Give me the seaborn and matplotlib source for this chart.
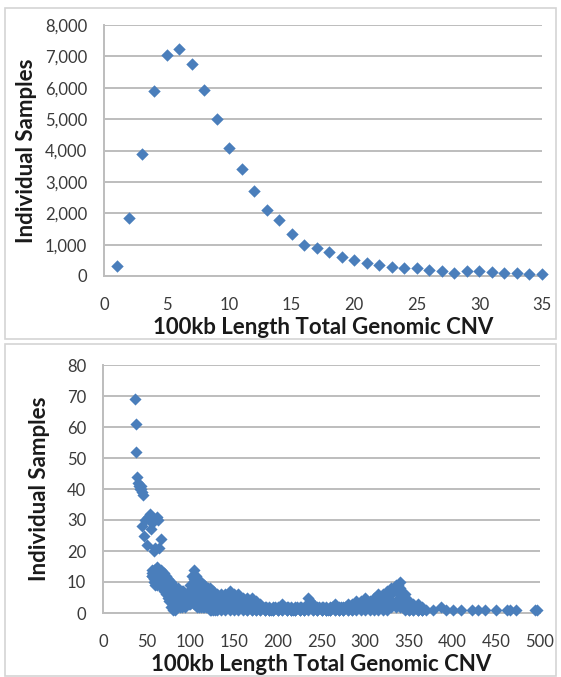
import numpy as np
import pandas as pd
import matplotlib
matplotlib.use("Agg")
import matplotlib.pyplot as plt
from matplotlib.patches import Rectangle
import seaborn as sns

# ---------------- data ----------------
# top panel
top_x = [1, 2, 3, 4, 5, 6, 7, 8, 9, 10, 11, 12, 13, 14, 15, 16, 17, 18,
         19, 20, 21, 22, 23, 24, 25, 26, 27, 28, 29, 30, 31, 32, 33, 34, 35]
top_y = [330, 1850, 3900, 5900, 7050, 7220, 6760, 5920, 5000, 4080, 3400,
         2700, 2100, 1800, 1330, 1000, 880, 750, 600, 500, 420, 350, 280,
         260, 240, 180, 150, 110, 160, 150, 120, 110, 110, 60, 70]

# bottom panel: head of the distribution
head_x = [37, 38, 38, 39, 40, 41, 42, 43, 44, 45, 46,
          45, 47, 48, 50, 52, 54, 55, 56, 58, 60, 62, 63, 64, 66]
head_y = [69, 61, 52, 44, 42, 41, 40, 41, 40, 39, 38,
          28, 25, 30, 22, 31, 32, 27, 29, 20, 21, 31, 30, 21, 24]

# bottom panel: dense cloud, x = 56..130 step 2
cloud_a_x = [56, 58, 60, 62, 64, 66, 68, 70, 72, 74, 76, 78, 80, 82, 84, 86,
             88, 90, 92, 94, 96, 98, 100, 102, 104, 106, 108, 110, 112, 114,
             116, 118, 120, 122, 124, 126, 128, 130]
cloud_a_top = [14, 14, 13, 15, 14, 14, 13, 13, 12, 11, 10, 10, 9, 8, 7, 8,
               7, 7, 7, 6, 6, 7, 9, 12, 14, 12, 11, 10, 10, 9, 9, 8, 8, 8, 7,
               7, 6, 6]
cloud_a_mid1 = [13, 12, 11, 12, 12, 11, 11, 10, 10, 9, 8, 7, 6, 5, 5, 6, 5,
                5, 5, 4, 5, 5, 7, 9, 11, 9, 8, 8, 7, 7, 6, 6, 6, 6, 5, 5, 4, 4]
cloud_a_mid2 = [12, 11, 10, 10, 11, 10, 9, 8, 8, 7, 6, 4, 3, 3, 3, 4, 4, 3,
                4, 3, 4, 4, 5, 6, 7, 6, 5, 5, 4, 4, 4, 4, 4, 3, 3, 3, 2, 2]
cloud_a_low = [12, 10, 9, 9, 10, 9, 8, 7, 6, 5, 4, 2, 1, 1, 2, 3, 2, 2, 3, 2,
               3, 3, 3, 4, 3, 3, 2, 2, 2, 2, 2, 2, 2, 1, 1, 1, 1, 1]

# bottom panel: dense cloud, x = 135..365 step 5
cloud_b_x = [135, 140, 145, 150, 155, 160, 165, 170, 175, 180, 185, 190, 195,
             200, 205, 210, 215, 220, 225, 230, 235, 240, 245, 250, 255, 260,
             265, 270, 275, 280, 285, 290, 295, 300, 305, 310, 315, 320, 325,
             330, 335, 340, 345, 350, 355, 360, 365]
cloud_b_top = [6, 6, 7, 6, 6, 5, 5, 5, 4, 3, 2, 2, 2, 2, 3, 2, 2, 2, 2, 2, 5,
               3, 2, 2, 2, 2, 3, 2, 2, 3, 3, 4, 4, 5, 4, 5, 6, 6, 7, 8, 9, 10,
               6, 4, 3, 3, 2]
cloud_b_mid = [4, 4, 5, 4, 4, 3, 3, 3, 2, 2, 1, 1, 1, 1, 2, 1, 1, 1, 1, 1, 3,
               2, 1, 1, 1, 1, 2, 1, 1, 2, 2, 3, 3, 3, 3, 4, 4, 4, 5, 6, 7, 8,
               4, 2, 2, 1, 1]
cloud_b_low = [2, 2, 3, 2, 2, 2, 1, 1, 1, 1, 1, 1, 1, 1, 1, 1, 1, 1, 1, 1, 2,
               1, 1, 1, 1, 1, 1, 1, 1, 1, 1, 2, 2, 2, 2, 2, 3, 3, 3, 4, 4, 5,
               2, 1, 1, 1, 1]
cloud_b_base = [1, 1, 1, 1, 1, 1, 1, 1, 1, 1, 1, 1, 1, 1, 1, 1, 1, 1, 1, 1, 1,
                1, 1, 1, 1, 1, 1, 1, 1, 1, 1, 1, 1, 1, 1, 1, 1, 1, 1, 2, 2, 2,
                1, 1, 1, 1, 1]
# extra samples between the step-5 columns
cloud_c_x = [137, 142, 147, 152, 157, 162, 167, 172, 177, 182, 187, 192, 197,
             202, 207, 212, 217, 222, 227, 232, 237, 242, 247, 252, 257, 262,
             267, 272, 277, 282, 287, 292, 297, 302, 307, 312, 317, 322, 327,
             332, 337, 342, 347, 352, 357, 362]
cloud_c_y = [3, 5, 4, 3, 5, 4, 2, 4, 3, 2, 2, 1, 2, 2, 2, 2, 1, 2, 2, 2, 4,
             2, 2, 2, 1, 2, 2, 2, 2, 2, 3, 3, 4, 4, 3, 4, 5, 5, 6, 7, 9, 6,
             3, 3, 2, 2]

# bottom panel: sparse tail
tail_x = [370, 378, 387, 392, 400, 410, 422, 429, 437, 450, 462, 466, 472,
          494, 497]
tail_y = [1, 1, 2, 1, 1, 1, 1, 1, 1, 1, 1, 1, 1, 1, 1]

top_xticks = [0, 5, 10, 15, 20, 25, 30, 35]
top_yticks = [0, 1000, 2000, 3000, 4000, 5000, 6000, 7000, 8000]
top_yticklabels = ["0", "1,000", "2,000", "3,000", "4,000", "5,000",
                   "6,000", "7,000", "8,000"]
bot_xticks = [0, 50, 100, 150, 200, 250, 300, 350, 400, 450, 500]
bot_yticks = [0, 10, 20, 30, 40, 50, 60, 70, 80]

x_label = "100kb Length Total Genomic CNV"
y_label = "Individual Samples"

# ---------------- assemble ----------------
top_df = pd.DataFrame({"x": top_x, "y": top_y})
parts = [pd.DataFrame({"x": head_x, "y": head_y})]
for ys in (cloud_a_top, cloud_a_mid1, cloud_a_mid2, cloud_a_low):
    parts.append(pd.DataFrame({"x": cloud_a_x, "y": ys}))
for ys in (cloud_b_top, cloud_b_mid, cloud_b_low, cloud_b_base):
    parts.append(pd.DataFrame({"x": cloud_b_x, "y": ys}))
parts.append(pd.DataFrame({"x": cloud_c_x, "y": cloud_c_y}))
parts.append(pd.DataFrame({"x": tail_x, "y": tail_y}))
bot_df = pd.concat(parts, ignore_index=True)

# ---------------- style ----------------
sns.set_theme(style="white")
plt.rcParams["font.family"] = ["Lato", "DejaVu Sans"]

BLUE = "#4A7EBB"
GRID = "#BDBDBD"
TICKC = "#3A3A3A"

W, H = 561, 677
fig = plt.figure(figsize=(W / 100, H / 100), dpi=100)

# panel frames
for (x0, y0, x1, y1) in [(5, 8, 556, 339), (5, 344, 556, 676)]:
    fig.add_artist(Rectangle((x0 / W, 1 - y1 / H), (x1 - x0) / W,
                             (y1 - y0) / H, transform=fig.transFigure,
                             fill=False, ec="#D4D4D4", lw=1.2))

ax1 = fig.add_axes([104 / W, 1 - 276 / H, (542 - 104) / W, (276 - 25) / H])
ax2 = fig.add_axes([103 / W, 1 - 613 / H, (540 - 103) / W, (613 - 365) / H])

sns.scatterplot(data=top_df, x="x", y="y", marker="D", s=40, color=BLUE,
                linewidth=0, ax=ax1, clip_on=False, zorder=3)
sns.scatterplot(data=bot_df, x="x", y="y", marker="D", s=38, color=BLUE,
                linewidth=0, ax=ax2, clip_on=False, zorder=3)

def style(ax, xlim, ylim, xt, yt, ytl, ylabelpad):
    ax.set_xlim(*xlim)
    ax.set_ylim(*ylim)
    ax.set_xticks(xt)
    ax.set_xticklabels([str(v) for v in xt])
    ax.set_yticks(yt)
    ax.set_yticklabels(ytl)
    ax.yaxis.grid(True, color=GRID, lw=1.4)
    ax.xaxis.grid(False)
    ax.set_axisbelow(True)
    for s in ("top", "right"):
        ax.spines[s].set_visible(False)
    for s in ("left", "bottom"):
        ax.spines[s].set_color(GRID)
        ax.spines[s].set_linewidth(1.4)
    ax.tick_params(axis="both", which="major", direction="out", length=4,
                   width=1.2, color=GRID, labelsize=12, labelcolor=TICKC)
    ax.tick_params(axis="y", pad=8)
    ax.tick_params(axis="x", pad=11)
    ax.set_xlabel(x_label, fontsize=16, fontweight="bold", color="#1A1A1A",
                  labelpad=3)
    ax.set_ylabel(y_label, fontsize=16, fontweight="bold", color="#1A1A1A",
                  labelpad=ylabelpad)

style(ax1, (0, 35), (0, 8000), top_xticks, top_yticks, top_yticklabels, 6)
style(ax2, (0, 500), (0, 80), bot_xticks, bot_yticks,
      [str(v) for v in bot_yticks], 12)

fig.savefig("out.png", dpi=100)
